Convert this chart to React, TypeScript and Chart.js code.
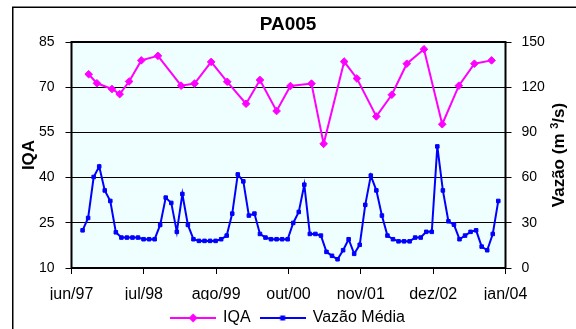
import React, { useEffect, useRef } from "react";
import { Chart, registerables } from "chart.js";

Chart.register(...registerables);

// ---------- DATA ----------
const chartTitle = "PA005";
const xTickLabels = ["jun/97", "jul/98", "ago/99", "out/00", "nov/01", "dez/02", "jan/04"];
const axisStartDate = "1997-06-01";
const axisSpanMonths = 78.3;

const iqaLabel = "IQA";
const iqaDates = [
  "1997-09-04", "1997-10-19", "1998-01-10", "1998-02-22", "1998-04-13", "1998-06-19",
  "1998-09-19", "1999-01-25", "1999-04-07", "1999-07-07", "1999-10-04", "2000-01-16",
  "2000-04-01", "2000-07-01", "2000-09-16", "2001-01-10", "2001-03-16", "2001-07-07",
  "2001-09-16", "2002-01-01", "2002-03-25", "2002-06-16", "2002-09-19", "2002-12-28",
  "2003-03-28", "2003-06-22", "2003-09-25",
];
const iqaValues = [
  74.3, 71.3, 69.4, 67.7, 71.9, 78.9, 80.4, 70.5, 71.2, 78.4, 71.8, 64.5, 72.4, 62.1,
  70.4, 71.2, 51.2, 78.5, 72.9, 60.3, 67.5, 77.8, 82.6, 57.7, 70.5, 77.8, 78.9,
];

const vazaoLabel = "Vazão Média";
const vazaoFirstMonth = "1997-08-01"; // monthly series
const vazaoValues = [
  25.0, 33.2, 60.4, 67.4, 51.5, 44.5, 23.7, 20.2, 20.2, 20.2,
  20.2, 19.1, 19.1, 19.1, 28.6, 46.7, 43.2, 24.0, 49.1, 28.6,
  19.1, 18.0, 18.0, 18.0, 18.0, 19.1, 21.5, 36.1, 62.1, 57.5,
  34.8, 36.1, 22.6, 20.2, 19.1, 19.1, 19.1, 19.1, 29.9, 37.2,
  55.3, 22.6, 22.6, 21.5, 10.7, 8.1, 5.8, 11.8, 19.1, 9.4,
  15.4, 41.9, 61.3, 51.5, 34.8, 21.5, 19.1, 17.7, 17.7, 17.7,
  20.2, 20.2, 24.0, 24.0, 80.7, 51.5, 31.0, 28.8, 19.1, 21.5,
  24.0, 25.0, 14.2, 11.8, 22.6, 44.5,
];

const iqaAxis = { min: 10, max: 85, step: 15, title: "IQA" };
const vazaoAxis = { min: 0, max: 150, step: 30, titleMain: "Vazão (m ", titleSup: "3", titleEnd: "/s)" };

// ---------- HELPERS ----------
const FONT = "'Liberation Sans', Arial, sans-serif";
const IQA_COLOR = "#FF00FF";
const VAZAO_COLOR = "#0000FF";

function monthsSinceStart(date: string): number {
  const [y, m, d] = date.split("-").map(Number);
  const [y0, m0, d0] = axisStartDate.split("-").map(Number);
  return (y - y0) * 12 + (m - m0) + (d - d0) / 30.5;
}

function legendIcon(color: string, marker: "diamond" | "square"): HTMLCanvasElement {
  const c = document.createElement("canvas");
  c.width = 46;
  c.height = 12;
  const g = c.getContext("2d")!;
  g.strokeStyle = color;
  g.fillStyle = color;
  g.lineWidth = 2;
  g.beginPath();
  g.moveTo(0, 6);
  g.lineTo(46, 6);
  g.stroke();
  g.beginPath();
  if (marker === "diamond") {
    g.moveTo(23 - 4.5, 6);
    g.lineTo(23, 6 - 4.5);
    g.lineTo(23 + 4.5, 6);
    g.lineTo(23, 6 + 4.5);
    g.closePath();
  } else {
    g.rect(23 - 2.5, 6 - 2.5, 5, 5);
  }
  g.fill();
  return c;
}

const decorPlugin = {
  id: "decor",
  beforeDraw(chart: any) {
    const { ctx, chartArea: a } = chart;
    ctx.save();
    ctx.fillStyle = "#EFFFFF";
    ctx.fillRect(a.left, a.top, a.right - a.left, a.bottom - a.top);
    ctx.strokeStyle = "#000";
    ctx.lineWidth = 1.5;
    ctx.strokeRect(12.75, 7.25, chart.width + 20, chart.height + 20);
    ctx.restore();
  },
  afterDatasetsDraw(chart: any) {
    const { ctx, chartArea: a } = chart;
    ctx.save();
    ctx.strokeStyle = "#000";
    ctx.lineWidth = 2;
    ctx.strokeRect(a.left, a.top, a.right - a.left, a.bottom - a.top);
    ctx.restore();
  },
  afterDraw(chart: any) {
    const { ctx, chartArea: a } = chart;
    const cy = (a.top + a.bottom) / 2;
    ctx.save();
    ctx.fillStyle = "#000";
    ctx.textBaseline = "middle";
    // left title
    ctx.font = `bold 17px ${FONT}`;
    ctx.translate(a.left - 42, cy);
    ctx.rotate(-Math.PI / 2);
    ctx.textAlign = "center";
    ctx.fillText(iqaAxis.title, 0, 0);
    ctx.restore();

    // right title with superscript
    ctx.save();
    ctx.fillStyle = "#000";
    ctx.textBaseline = "middle";
    ctx.translate(a.right + 54, cy);
    ctx.rotate(-Math.PI / 2);
    const mainFont = `bold 17px ${FONT}`;
    const supFont = `bold 11px ${FONT}`;
    ctx.font = mainFont;
    const w1 = ctx.measureText(vazaoAxis.titleMain).width;
    const w3 = ctx.measureText(vazaoAxis.titleEnd).width;
    ctx.font = supFont;
    const w2 = ctx.measureText(vazaoAxis.titleSup).width;
    let x = -(w1 + w2 + w3) / 2;
    ctx.textAlign = "left";
    ctx.font = mainFont;
    ctx.fillText(vazaoAxis.titleMain, x, 0);
    x += w1;
    ctx.font = supFont;
    ctx.fillText(vazaoAxis.titleSup, x, -5);
    x += w2;
    ctx.font = mainFont;
    ctx.fillText(vazaoAxis.titleEnd, x, 0);
    ctx.restore();
  },
};

export default function App() {
  const ref = useRef<HTMLCanvasElement | null>(null);

  useEffect(() => {
    if (!ref.current) return;
    const vStart = monthsSinceStart(vazaoFirstMonth);
    const vazaoPoints = vazaoValues.map((v, i) => ({ x: vStart + i, y: v }));
    const iqaPoints = iqaValues.map((v, i) => ({ x: monthsSinceStart(iqaDates[i]), y: v }));
    const icons = [legendIcon(IQA_COLOR, "diamond"), legendIcon(VAZAO_COLOR, "square")];

    const chart = new Chart(ref.current, {
      type: "line",
      data: {
        datasets: [
          {
            label: iqaLabel,
            data: iqaPoints,
            yAxisID: "y",
            borderColor: IQA_COLOR,
            backgroundColor: IQA_COLOR,
            borderWidth: 2,
            pointStyle: "rectRot",
            pointRadius: 3.8,
            pointBorderWidth: 1,
            tension: 0,
          },
          {
            label: vazaoLabel,
            data: vazaoPoints,
            yAxisID: "y1",
            borderColor: VAZAO_COLOR,
            backgroundColor: VAZAO_COLOR,
            borderWidth: 2,
            pointStyle: "rect",
            pointRadius: 2.5,
            pointBorderWidth: 1,
            tension: 0,
          },
        ],
      },
      options: {
        responsive: false,
        animation: false,
        events: [],
        layout: { padding: 0 },
        plugins: {
          tooltip: { enabled: false },
          title: {
            display: true,
            text: chartTitle,
            color: "#000",
            font: { family: FONT, size: 19, weight: "bold" },
            padding: { top: 13.4, bottom: 5.8 },
          },
          legend: {
            position: "bottom",
            labels: {
              color: "#000",
              font: { family: FONT, size: 16 },
              usePointStyle: true,
              pointStyleWidth: 44,
              padding: 10,
              generateLabels: () =>
                [iqaLabel, vazaoLabel].map((t, i) => ({
                  text: t,
                  pointStyle: icons[i],
                  fillStyle: "transparent",
                  strokeStyle: "transparent",
                  lineWidth: 0,
                  hidden: false,
                  datasetIndex: i,
                  fontColor: "#000",
                })),
            },
          },
        },
        scales: {
          x: {
            type: "linear",
            min: 0,
            max: axisSpanMonths,
            afterBuildTicks: (s: any) => {
              s.ticks = xTickLabels.map((_, i) => ({ value: (i * axisSpanMonths) / (xTickLabels.length - 1) }));
            },
            afterFit: (s: any) => {
              s.height = 32;
            },
            border: { display: false },
            grid: { drawOnChartArea: false, drawTicks: true, tickLength: 6, tickColor: "#000", color: "#000" },
            ticks: {
              autoSkip: false,
              maxRotation: 0,
              padding: 11,
              color: "#000",
              font: { family: FONT, size: 16 },
              callback: (_v: any, i: number) => xTickLabels[i],
            },
          },
          y: {
            type: "linear",
            position: "left",
            min: iqaAxis.min,
            max: iqaAxis.max,
            afterFit: (s: any) => {
              s.width = 71.5;
            },
            border: { display: false },
            grid: { color: "#000", lineWidth: 1, drawTicks: true, tickLength: 6, tickColor: "#000" },
            ticks: {
              stepSize: iqaAxis.step,
              padding: 11,
              color: "#000",
              font: { family: FONT, size: 14 },
            },
          },
          y1: {
            type: "linear",
            position: "right",
            min: vazaoAxis.min,
            max: vazaoAxis.max,
            afterFit: (s: any) => {
              s.width = 70.5;
            },
            border: { display: false },
            grid: { drawOnChartArea: false, drawTicks: true, tickLength: 6, tickColor: "#000", color: "#000" },
            ticks: {
              stepSize: vazaoAxis.step,
              padding: 10,
              color: "#000",
              font: { family: FONT, size: 14 },
            },
          },
        },
      },
      plugins: [decorPlugin],
    } as any);
    return () => chart.destroy();
  }, []);

  return (
    <div style={{ position: "fixed", left: 0, top: 0, width: 576, height: 329, overflow: "hidden", background: "#fff" }}>
      <canvas ref={ref} width={576} height={336} style={{ display: "block" }} />
    </div>
  );
}
